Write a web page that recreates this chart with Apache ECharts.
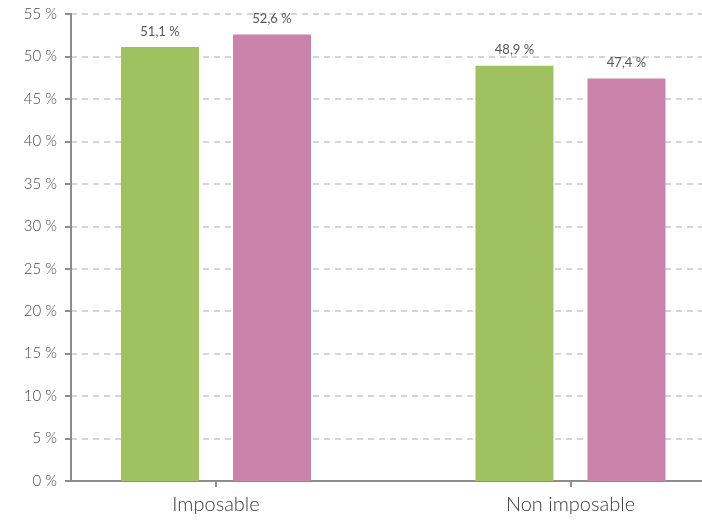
<!DOCTYPE html>
<html><head><meta charset="utf-8">
<script src="https://cdn.jsdelivr.net/npm/echarts@6/dist/echarts.min.js"></script>
<style>html,body{margin:0;padding:0;background:#fff}#c{width:702px;height:522px}</style>
</head><body><div id="c"></div>
<script>
const categories = ['Imposable', 'Non imposable'];
const seriesA = [51.1, 48.9];
const seriesB = [52.6, 47.4];
const yMin = 0, yMax = 55, yStep = 5;

const chart = echarts.init(document.getElementById('c'));
const fmt = v => String(v).replace('.', ',') + ' %';
const font = 'Lato, "Open Sans", sans-serif';
const idx = categories.map((c, i) => i);
chart.setOption({
  animation: false,
  grid: {left: 71, right: 0, top: 14, bottom: 41},
  xAxis: {
    type: 'value', min: -0.409, max: 1.371,
    splitLine: {show: false},
    axisLine: {show: true, onZero: false, lineStyle: {color: '#8c8c8c', width: 2}},
    axisTick: {show: true, customValues: idx, length: 6, lineStyle: {color: '#8c8c8c', width: 2}},
    axisLabel: {customValues: idx, margin: 14, color: '#3a3a3a', fontSize: 20, fontFamily: font, fontWeight: 300,
      formatter: v => categories[Math.round(v)]}
  },
  yAxis: {
    type: 'value', min: yMin, max: yMax, interval: yStep,
    axisLine: {show: true, onZero: false, lineStyle: {color: '#8c8c8c', width: 2}},
    axisTick: {show: true, length: 6, lineStyle: {color: '#8c8c8c', width: 2}},
    axisLabel: {margin: 14, color: '#4a4a4a', fontSize: 15, fontFamily: font, fontWeight: 300, formatter: v => v + ' %'},
    splitLine: {show: true, lineStyle: {color: '#c8c8c8', width: 1.5, type: [6, 5]}}
  },
  series: [
    {type: 'bar', data: seriesA.map((v, i) => [i, v]), barWidth: 78, barGap: '43.6%',
     itemStyle: {color: '#a0c15f'},
     label: {show: true, position: 'top', distance: 9, color: '#555', fontSize: 13, fontFamily: font, formatter: p => fmt(p.value[1])}},
    {type: 'bar', data: seriesB.map((v, i) => [i, v]), barWidth: 78, barGap: '43.6%',
     itemStyle: {color: '#c982a9'},
     label: {show: true, position: 'top', distance: 9, color: '#555', fontSize: 13, fontFamily: font, formatter: p => fmt(p.value[1])}}
  ]
});
</script></body></html>
